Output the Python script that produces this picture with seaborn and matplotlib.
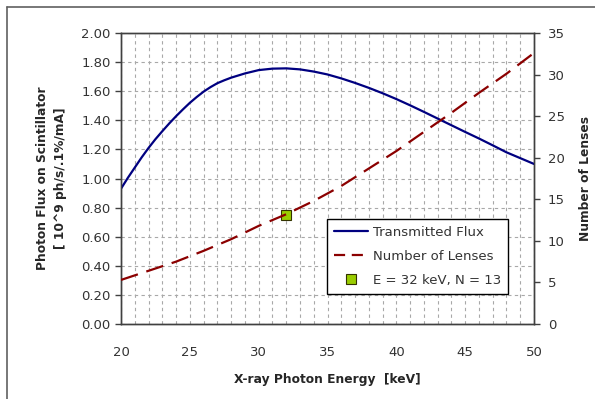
import numpy as np
import pandas as pd
import matplotlib
matplotlib.use("Agg")
import matplotlib.pyplot as plt
import seaborn as sns
from matplotlib.lines import Line2D

# values
energy_flux = [20, 20.5, 21, 21.5, 22, 22.5, 23, 23.5, 24, 24.5, 25, 25.5, 26, 26.5, 27, 27.5,
               28, 29, 30, 31, 32, 33, 34, 35, 36, 37, 38, 39, 40, 41, 42, 43, 44, 45,
               46, 47, 48, 49, 50]
flux = [0.93, 1.005, 1.075, 1.145, 1.21, 1.27, 1.325, 1.378, 1.428, 1.475, 1.52, 1.56, 1.597, 1.628, 1.655, 1.675,
        1.693, 1.722, 1.745, 1.755, 1.757, 1.75, 1.735, 1.715, 1.688, 1.657, 1.623, 1.586, 1.546, 1.503, 1.458, 1.412, 1.366, 1.32,
        1.275, 1.228, 1.18, 1.14, 1.10]

energy_lens = [20, 22, 24, 26, 28, 30, 32, 34, 36, 38, 40, 42, 44, 46, 48, 50]
lenses = [5.3, 6.4, 7.5, 8.8, 10.2, 11.8, 13.2, 14.8, 16.6, 18.7, 20.8, 23.1, 25.4, 27.8, 30.1, 32.6]

point_energy = [32]
point_flux = [0.75]

sns.set_style("white")
plt.rcParams['font.family'] = ['DejaVu Sans']

blue = "#000080"
red = "#8B0000"
green = "#99CC00"

fig = plt.figure(figsize=(5.95, 3.99), dpi=100)
ax = fig.add_axes([121 / 595, 75 / 399, 413 / 595, 291 / 399])
ax2 = ax.twinx()

df_flux = pd.DataFrame({"E": energy_flux, "F": flux})
df_lens = pd.DataFrame({"E": energy_lens, "N": lenses})

sns.lineplot(data=df_flux, x="E", y="F", ax=ax, color=blue, linewidth=1.6, zorder=3)
ax.plot(point_energy, point_flux, marker="s", markersize=7, color=green,
        markeredgecolor="#333300", markeredgewidth=0.8, linestyle="none", zorder=4)
sns.lineplot(data=df_lens, x="E", y="N", ax=ax2, color=red, linewidth=1.6, zorder=3)
ax2.lines[0].set_dashes((8, 4))

ax.set_xlim(20, 50)
ax.set_ylim(0, 2)
ax2.set_ylim(0, 35)
ax.set_xticks(np.arange(20, 51, 5))
ax.set_xticks(np.arange(20, 51, 1), minor=True)
ax.set_yticks(np.arange(0, 2.01, 0.2))
ax.set_yticklabels([f"{v:.2f}" for v in np.arange(0, 2.01, 0.2)])
ax2.set_yticks(np.arange(0, 36, 5))

ax.grid(True, which="both", axis="x", color="#a8a8a8", linestyle=(0, (3, 3)), linewidth=0.8)
ax.grid(True, which="major", axis="y", color="#a8a8a8", linestyle=(0, (3, 3)), linewidth=0.8)
ax.set_axisbelow(True)

for a in (ax, ax2):
    for s in a.spines.values():
        s.set_color("#404040")
        s.set_linewidth(1.0)
    a.tick_params(axis="both", which="major", direction="out", length=4, width=1,
                  color="#404040", labelsize=9.5, labelcolor="#333333")
ax.tick_params(axis="x", which="major", pad=12)
ax.tick_params(axis="x", which="minor", length=0)
ax2.tick_params(axis="y", pad=6)

ax.set_xlabel("X-ray Photon Energy  [keV]", fontsize=8.8, fontweight="bold", labelpad=10)
ax.set_ylabel("Photon Flux on Scintillator\n[ 10^9 ph/s/.1%/mA]", fontsize=8.8,
              fontweight="bold", labelpad=10, linespacing=1.5)
ax2.set_ylabel("Number of Lenses", fontsize=8.8, fontweight="bold", labelpad=10)

handles = [
    Line2D([], [], color=blue, linewidth=1.6),
    Line2D([], [], color=red, linewidth=1.6, dashes=(5, 3)),
    Line2D([], [], marker="s", markersize=7, color=green, markeredgecolor="#333300",
           markeredgewidth=0.8, linestyle="none"),
]
labels = ["Transmitted Flux", "Number of Lenses", "E = 32 keV, N = 13"]
leg = ax2.legend(handles, labels, loc="upper right", bbox_to_anchor=(508 / 595, 1 - 219 / 399),
                 bbox_transform=fig.transFigure, borderaxespad=0, fontsize=9.5, frameon=True,
                 fancybox=False, framealpha=1, edgecolor="black", borderpad=0.5,
                 handlelength=2.6, handletextpad=0.4, labelspacing=0.85)
leg.get_frame().set_linewidth(1.0)
for t in leg.get_texts():
    t.set_color("#333333")

# outer chart border (top and left only visible)
fig.add_artist(Line2D([7 / 595, 7 / 595], [0, 1 - 7 / 399], transform=fig.transFigure,
                      color="#606060", linewidth=1.2))
fig.add_artist(Line2D([7 / 595, 1], [1 - 7 / 399, 1 - 7 / 399], transform=fig.transFigure,
                      color="#606060", linewidth=1.2))

fig.savefig("out.png", dpi=100)
